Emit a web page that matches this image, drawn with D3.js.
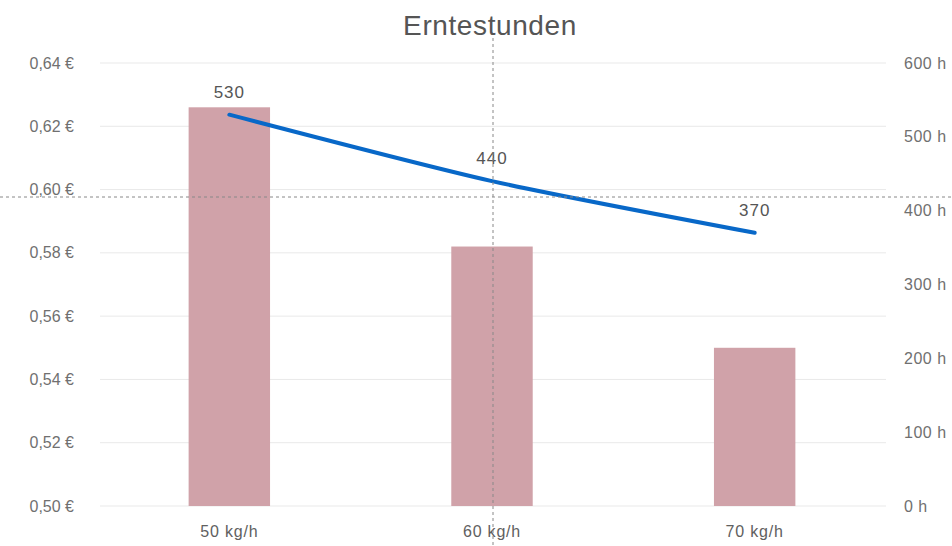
<!DOCTYPE html>
<html>
<head>
<meta charset="utf-8">
<script src="https://cdn.jsdelivr.net/npm/d3@7"></script>
<style>
  body { margin: 0; background: #fff; }
  text { font-family: "Liberation Sans", Arial, sans-serif; }
</style>
</head>
<body>
<div id="chart"></div>
<script>
var categories = ["50 kg/h", "60 kg/h", "70 kg/h"];
var costValues = [0.626, 0.582, 0.550];
var hoursValues = [530, 440, 370];
var leftTicks = [0.50, 0.52, 0.54, 0.56, 0.58, 0.60, 0.62, 0.64];
var rightTicks = [0, 100, 200, 300, 400, 500, 600];

var width = 952, height = 546;
var margin = {top: 63, right: 66, bottom: 40, left: 98};
var innerW = width - margin.left - margin.right,
    innerH = height - margin.top - margin.bottom;

var svg = d3.select("#chart").append("svg")
    .attr("width", width)
    .attr("height", height);

var g = svg.append("g")
    .attr("transform", "translate(" + margin.left + "," + margin.top + ")");

// scales
var x = d3.scaleBand()
    .domain(categories)
    .range([0, innerW])
    .paddingInner(0.69)
    .paddingOuter(0.345);

var yLeft = d3.scaleLinear().domain([0.50, 0.64]).range([innerH, 0]);
var yRight = d3.scaleLinear().domain([0, 600]).range([innerH, 0]);

// gridlines
g.append("g")
    .selectAll("line")
    .data(leftTicks)
    .enter().append("line")
    .attr("x1", 2).attr("x2", innerW)
    .attr("y1", function(d) { return yLeft(d); })
    .attr("y2", function(d) { return yLeft(d); })
    .attr("stroke", "#e9e9e9")
    .attr("stroke-width", 1);

// left axis
var fmtEuro = function(d) { return d3.format(".2f")(d).replace(".", ",") + " \u20ac"; };
var leftAxis = g.append("g")
    .call(d3.axisLeft(yLeft).tickValues(leftTicks).tickFormat(fmtEuro).tickSize(0).tickPadding(24));
leftAxis.select(".domain").remove();
leftAxis.selectAll("text").attr("fill", "#707070").style("font-size", "16px");

// right axis
var rightAxis = g.append("g")
    .attr("transform", "translate(" + innerW + ",0)")
    .call(d3.axisRight(yRight).tickValues(rightTicks).tickFormat(function(d) { return d + " h"; }).tickSize(0).tickPadding(18));
rightAxis.select(".domain").remove();
rightAxis.selectAll("text").attr("fill", "#707070").style("font-size", "16px").style("letter-spacing", "0.5px");

// x axis
var xAxis = g.append("g")
    .attr("transform", "translate(0," + innerH + ")")
    .call(d3.axisBottom(x).tickSize(0).tickPadding(20));
xAxis.select(".domain").remove();
xAxis.selectAll("text").attr("fill", "#606060").style("font-size", "16px").style("letter-spacing", "0.8px");

// bars
g.append("g")
    .selectAll("rect")
    .data(costValues)
    .enter().append("rect")
    .attr("x", function(d, i) { return x(categories[i]); })
    .attr("y", function(d) { return yLeft(d); })
    .attr("width", x.bandwidth())
    .attr("height", function(d) { return innerH - yLeft(d); })
    .attr("fill", "#d0a2a9");

// line
var line = d3.line()
    .x(function(d, i) { return x(categories[i]) + x.bandwidth() / 2; })
    .y(function(d) { return yRight(d); })
    .curve(d3.curveCardinal.tension(0.3));

g.append("path")
    .datum(hoursValues)
    .attr("d", line)
    .attr("fill", "none")
    .attr("stroke", "#0868c8")
    .attr("stroke-width", 4)
    .attr("stroke-linecap", "round");

// line labels
g.append("g")
    .selectAll("text")
    .data(hoursValues)
    .enter().append("text")
    .attr("x", function(d, i) { return x(categories[i]) + x.bandwidth() / 2; })
    .attr("y", function(d) { return yRight(d) - 17; })
    .attr("text-anchor", "middle")
    .attr("fill", "#555")
    .style("font-size", "17px")
    .style("letter-spacing", "1px")
    .text(function(d) { return d; });

// title
svg.append("text")
    .attr("x", 490)
    .attr("y", 35)
    .attr("text-anchor", "middle")
    .attr("fill", "#555")
    .style("font-size", "28px")
    .style("letter-spacing", "0.6px")
    .text("Erntestunden");

// crosshair
svg.append("line")
    .attr("x1", 493).attr("x2", 493)
    .attr("y1", 38).attr("y2", height)
    .attr("stroke", "#888").attr("stroke-dasharray", "3,3").attr("stroke-width", 1);
svg.append("line")
    .attr("x1", 0).attr("x2", width)
    .attr("y1", 197).attr("y2", 197)
    .attr("stroke", "#888").attr("stroke-dasharray", "3,3").attr("stroke-width", 1);
</script>
</body>
</html>
